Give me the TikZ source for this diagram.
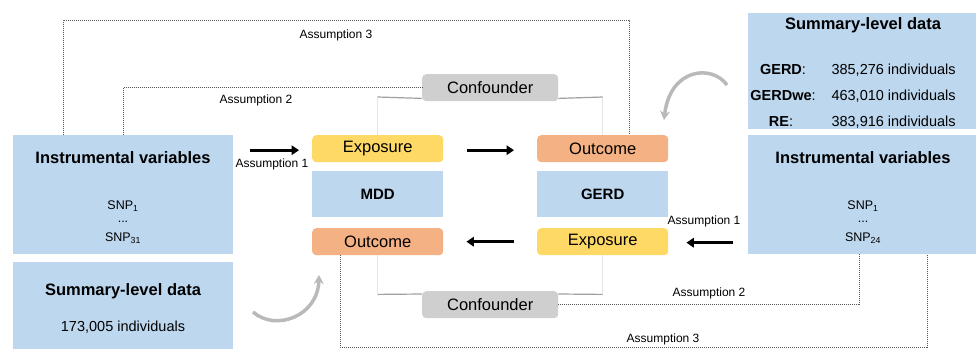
\documentclass[tikz,border=0pt]{standalone}
\usepackage{fontspec}
\setmainfont{Liberation Sans}
\usetikzlibrary{arrows.meta,calc}
\definecolor{panelblue}{HTML}{BDD7EE}
\definecolor{expyellow}{HTML}{FFD966}
\definecolor{outorange}{HTML}{F4B183}
\definecolor{confgray}{HTML}{D0CFCF}
\definecolor{dotink}{HTML}{555555}

\begin{document}
\begin{tikzpicture}[x=1pt,y=-1pt,
  panel/.style={fill=panelblue, draw=none, inner sep=0pt, anchor=north west},
  tagbox/.style={rounded corners=4pt, draw=none, inner sep=0pt, anchor=north west,
    minimum width=131pt, minimum height=27pt, font=\fontsize{16.5}{19}\selectfont},
  expbox/.style={tagbox, fill=expyellow},
  outbox/.style={tagbox, fill=outorange},
  confbox/.style={tagbox, fill=confgray, minimum width=136pt},
  diseasebox/.style={panel, minimum width=131pt, minimum height=46pt,
    font=\fontsize{15}{18}\selectfont\bfseries},
  title/.style={font=\fontsize{16.5}{20}\selectfont\bfseries},
  snp/.style={font=\fontsize{12.5}{15}\selectfont, inner sep=0pt},
  count/.style={font=\fontsize{14.5}{17}\selectfont},
  lbl/.style={font=\fontsize{12}{14}\selectfont, inner sep=0pt},
  bigarrow/.style={line width=3pt, -{Triangle[length=7.5pt,width=9.5pt]}},
  assum/.style={draw=dotink, line width=0.7pt, dash pattern=on 1pt off 1pt},
  conline/.style={draw=gray!75, line width=1.2pt},
  confdrop/.style={draw=gray!20, line width=0.5pt},
  swing/.style={draw=gray!55, line width=3.5pt, line cap=butt,
    -{Stealth[length=9pt,width=10pt]}}
]
\useasboundingbox (0,0) rectangle (976,349);

% left panels
\node[panel, minimum width=220pt, minimum height=119pt] (ivL) at (13,135) {};
\node[panel, minimum width=220pt, minimum height=87pt] (sumL) at (13,262) {};
% right panels
\node[panel, minimum width=228pt, minimum height=116pt] (sumR) at (748,13) {};
\node[panel, minimum width=228pt, minimum height=119pt] (ivR) at (748,135) {};

% central columns
\node[expbox] (expL) at (312,135) {Exposure};
\node[diseasebox] (mdd) at (312,171) {MDD};
\node[outbox] (outL) at (312,228) {Outcome};
\node[outbox] (outR) at (537,135) {Outcome};
\node[diseasebox] (gerd) at (537,171) {GERD};
\node[expbox] (expR) at (537,228) {Exposure};
\node[confbox] (confT) at (422,74) {Confounder};
\node[confbox] (confB) at (422,291) {Confounder};

% text in the left panels
\node[title] (ivLt) at (123,158) {Instrumental variables};
\node[snp] (ivLa) at (123,206) {SNP\textsubscript{1}};
\node[snp] (ivLd) at (123,222) {...};
\node[snp] (ivLb) at (123,238) {SNP\textsubscript{31}};
\node[title] (sumLt) at (123,291) {Summary-level data};
\node[count] (sumLc) at (123,327) {173,005 individuals};

% text in the right panels
\node[title] (sumRt) at (863,25) {Summary-level data};
\node[count] (g1k) at (783,70) {\textbf{GERD}:};
\node[count, anchor=west] (g1v) at (828,70) {385,276 individuals};
\node[count] (g2k) at (783,96) {\textbf{GERDwe}:};
\node[count, anchor=west] (g2v) at (828,96) {463,010 individuals};
\node[count] (g3k) at (781,122) {\textbf{RE}:};
\node[count, anchor=west] (g3v) at (828,122) {383,916 individuals};
\node[title] (ivRt) at (863,158) {Instrumental variables};
\node[snp] (ivRa) at (863,206) {SNP\textsubscript{1}};
\node[snp] (ivRd) at (863,222) {...};
\node[snp] (ivRb) at (863,238) {SNP\textsubscript{24}};

% causal arrows
\draw[bigarrow] ($(expL.west)+(-62,1.5)$) -- ($(expL.west)+(-13,1.5)$);
\draw[bigarrow] ($(expL.east)+(24,1.5)$) -- ($(outR.west)+(-23,1.5)$);
\draw[bigarrow] ($(expR.west)+(-23,0)$) -- ($(outL.east)+(23,0)$);
\draw[bigarrow] ($(expR.east)+(65,1)$) -- ($(expR.east)+(18,1)$);

% confounder links
\draw[confdrop] (expL.north) -- ++(0,-38);
\draw[conline] ($(expL.north)+(0,-38)$) -- ($(confT.south west)+(0,-3)$);
\draw[confdrop] (outR.north) -- ++(0,-38);
\draw[conline] ($(confT.south east)+(0,-3)$) -- ($(outR.north)+(0,-38)$);
\draw[confdrop] (outL.south) -- ++(0,39);
\draw[conline] ($(outL.south)+(0,39)$) -- ($(confB.north west)+(0,3)$);
\draw[confdrop] (expR.south) -- ++(0,39);
\draw[conline] ($(confB.north east)+(0,3)$) -- ($(expR.south)+(0,39)$);

% assumption paths
\draw[assum] ($(ivL.north west)+(50,0)$) -- ++(0,-115) -| ($(outR.north west)+(92,0)$);
\draw[assum] ($(ivL.north west)+(110,0)$) |- (confT.west);
\draw[assum] (confB.east) -| ($(ivR.south west)+(111,0)$);
\draw[assum] ($(outL.south west)+(28,0)$) -- ++(0,92) -| ($(ivR.south west)+(179,0)$);

% assumption labels
\node[lbl] (a1L) at (272,164) {Assumption 1};
\node[lbl] (a1R) at (704,221) {Assumption 1};
\node[lbl] (a2T) at (256,100) {Assumption 2};
\node[lbl] (a2B) at (709,293) {Assumption 2};
\node[lbl] (a3T) at (336,35) {Assumption 3};
\node[lbl] (a3B) at (663,339) {Assumption 3};

% curved arrows from the data panels
\coordinate (swRs) at (727,85);
\coordinate (swRe) at (664,120);
\coordinate (swLs) at (253,312);
\coordinate (swLe) at (319,275);
\draw[swing] (swRs) .. controls (712,64) and (670,68) .. (swRe);
\draw[swing] (swLs) .. controls (276,332) and (318,316) .. (swLe);
\end{tikzpicture}
\end{document}
